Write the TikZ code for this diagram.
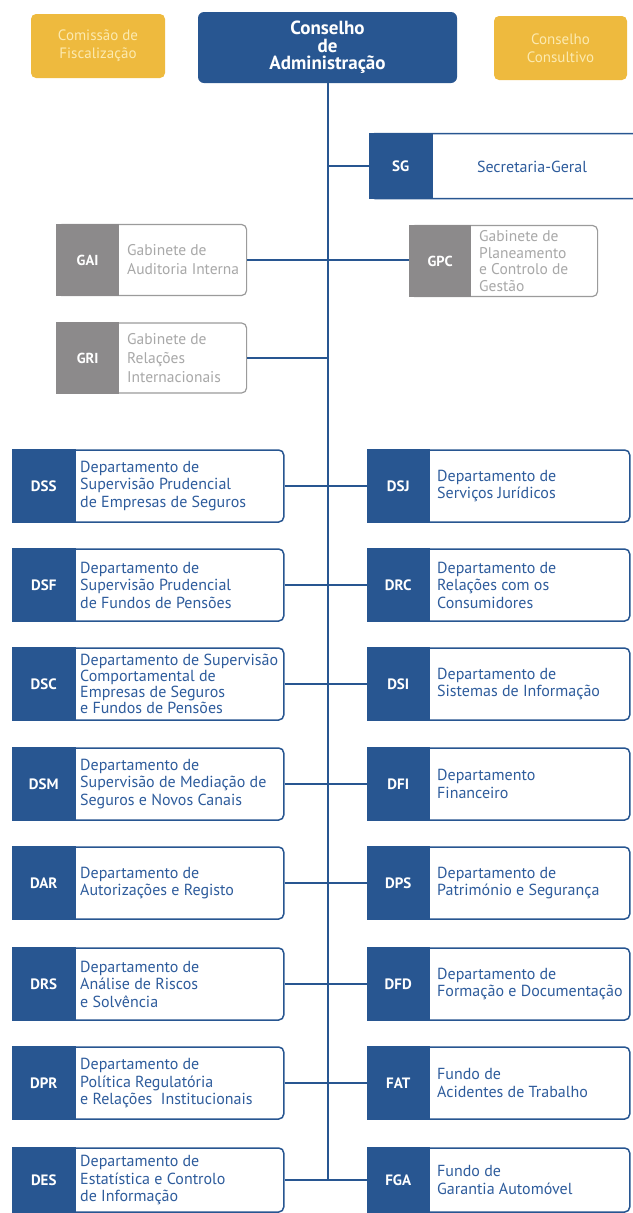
\documentclass[tikz,border=0pt]{standalone}
\usepackage{fontspec}
\setmainfont{PT Sans}
\definecolor{cblue}{RGB}{40,86,145}
\definecolor{tblue}{RGB}{46,92,156}
\definecolor{cyell}{RGB}{238,186,62}
\definecolor{cpale}{RGB}{252,234,176}
\definecolor{gdark}{RGB}{140,138,139}
\definecolor{gline}{RGB}{155,155,155}
\definecolor{gtext}{RGB}{168,168,168}
\tikzset{
  conn/.style={draw=cblue, line width=2pt},
  wbox/.style={draw=cblue, fill=white, line width=1.5pt, rounded corners=5pt, inner sep=0pt},
  dbox/.style={draw=cblue, fill=cblue, line width=1.5pt, inner sep=0pt, text=white, font=\fontsize{15}{15}\selectfont\bfseries},
  btext/.style={inner sep=0pt, align=left, text=tblue, font=\fontsize{16}{17.5}\selectfont},
  gwbox/.style={draw=gline, fill=white, line width=1.2pt, rounded corners=5pt, inner sep=0pt},
  gdbox/.style={draw=gdark, fill=gdark, line width=1.2pt, inner sep=0pt, text=white, font=\fontsize{14.5}{15}\selectfont\bfseries},
  gtxt/.style={inner sep=0pt, align=left, text=gtext, font=\fontsize{15.5}{19}\selectfont},
  ybox/.style={fill=cyell, rounded corners=5pt, inner sep=0pt, align=center, text=cpale, font=\fontsize{15}{18}\selectfont},
}
\newcommand{\leftunit}[5]{%
  \node[wbox, minimum width=271pt, minimum height=#5pt, anchor=west] (#1w) at (12,#2) {};
  \node[dbox, minimum width=62pt, minimum height=#5pt, anchor=west] (#1) at (12,#2) {#3};
  \node[btext, anchor=west] (#1t) at (80,#2) {#4};
}
\newcommand{\rightunit}[5]{%
  \node[wbox, minimum width=262pt, minimum height=#5pt, anchor=west] (#1w) at (367,#2) {};
  \node[dbox, minimum width=61pt, minimum height=#5pt, anchor=west] (#1) at (367,#2) {#3};
  \node[btext, anchor=west] (#1t) at (437,#2) {#4};
}
\begin{document}
\begin{tikzpicture}[x=1pt,y=-1pt]
\useasboundingbox (0,0) rectangle (632,1213);
% header
\node[ybox, minimum width=134pt, minimum height=64pt] (cf) at (98,46) {Comissão de\\Fiscalização};
\node[fill=cblue, rounded corners=6pt, minimum width=259pt, minimum height=71pt, inner sep=0pt, align=center, text=white, font=\fontsize{19}{17.5}\selectfont\bfseries] (adm) at (327.5,47.5) {Conselho\\de\\Administração};
\node[ybox, minimum width=133pt, minimum height=64pt] (cc) at (560.5,48) {Conselho\\Consultivo};
% trunk
\coordinate (tend) at (327.5,1180);
\draw[conn] (adm.south) -- (tend);
% SG
\node[wbox, minimum width=280pt, minimum height=65pt, anchor=west] (sgw) at (369,166) {};
\node[dbox, minimum width=62pt, minimum height=65pt, anchor=west] (sg) at (369,166) {SG};
\node[btext] (sgt) at (532,167) {Secretaria-Geral};
\draw[conn] (sg.west -| adm.south) -- (sg.west);
% gray offices
\node[gwbox, minimum width=190pt, minimum height=71pt, anchor=west] (gaiw) at (56,260) {};
\node[gdbox, minimum width=62pt, minimum height=71pt, anchor=west] (gai) at (56,260) {GAI};
\node[gtxt, anchor=west] (gait) at (127,260) {Gabinete de\\Auditoria Interna};
\node[gwbox, minimum width=188pt, minimum height=71pt, anchor=west] (gpcw) at (409,261) {};
\node[gdbox, minimum width=61pt, minimum height=71pt, anchor=west] (gpc) at (409,261) {GPC};
\node[gtxt, anchor=west, font=\fontsize{15.5}{16.5}\selectfont] (gpct) at (479,261) {Gabinete de\\Planeamento\\e Controlo de\\Gestão};
\node[gwbox, minimum width=190pt, minimum height=70pt, anchor=west] (griw) at (56,358) {};
\node[gdbox, minimum width=62pt, minimum height=70pt, anchor=west] (gri) at (56,358) {GRI};
\node[gtxt, anchor=west] (grit) at (127,358) {Gabinete de\\Relações\\Internacionais};
\draw[conn] (gaiw.east) -- (gaiw.east -| gpc.west);
\draw[conn] (griw.east) -- (griw.east -| adm.south);
% departments
\leftunit{dss}{486}{DSS}{Departamento de\\Supervisão Prudencial\\de Empresas de Seguros}{72}
\rightunit{dsj}{486}{DSJ}{Departamento de\\Serviços Jurídicos}{72}
\leftunit{dsf}{585}{DSF}{Departamento de\\Supervisão Prudencial\\de Fundos de Pensões}{72}
\rightunit{drc}{585}{DRC}{Departamento de\\Relações com os\\Consumidores}{72}
\node[wbox, minimum width=271pt, minimum height=72pt, anchor=west] (dscw) at (12,684) {};
\node[dbox, minimum width=62pt, minimum height=72pt, anchor=west] (dsc) at (12,684) {DSC};
\node[btext, anchor=west, font=\fontsize{16}{16}\selectfont] (dsct) at (80,684) {Departamento de Supervisão\\Comportamental de\\Empresas de Seguros\\e Fundos de Pensões};
\rightunit{dsi}{684}{DSI}{Departamento de\\Sistemas de Informação}{72}
\leftunit{dsm}{784}{DSM}{Departamento de\\Supervisão de Mediação de\\Seguros e Novos Canais}{72}
\rightunit{dfi}{784}{DFI}{Departamento\\Financeiro}{72}
\leftunit{dar}{883}{DAR}{Departamento de\\Autorizações e Registo}{72}
\rightunit{dps}{883}{DPS}{Departamento de\\Património e Segurança}{72}
\leftunit{drs}{984}{DRS}{Departamento de\\Análise de Riscos\\e Solvência}{72}
\rightunit{dfd}{984}{DFD}{Departamento de\\Formação e Documentação}{72}
\leftunit{dpr}{1083}{DPR}{Departamento de\\Política Regulatória\\e Relações~ Institucionais}{72}
\rightunit{fat}{1083}{FAT}{Fundo de\\Acidentes de Trabalho}{72}
\leftunit{des}{1180}{DES}{Departamento de\\Estatística e Controlo\\de Informação}{64}
\rightunit{fga}{1180}{FGA}{Fundo de\\Garantia Automóvel}{64}
\foreach \a/\b in {dss/dsj, dsf/drc, dsc/dsi, dsm/dfi, dar/dps, drs/dfd, dpr/fat, des/fga}{
  \draw[conn] (\a w.east) -- (\b.west);
}
\end{tikzpicture}
\end{document}
